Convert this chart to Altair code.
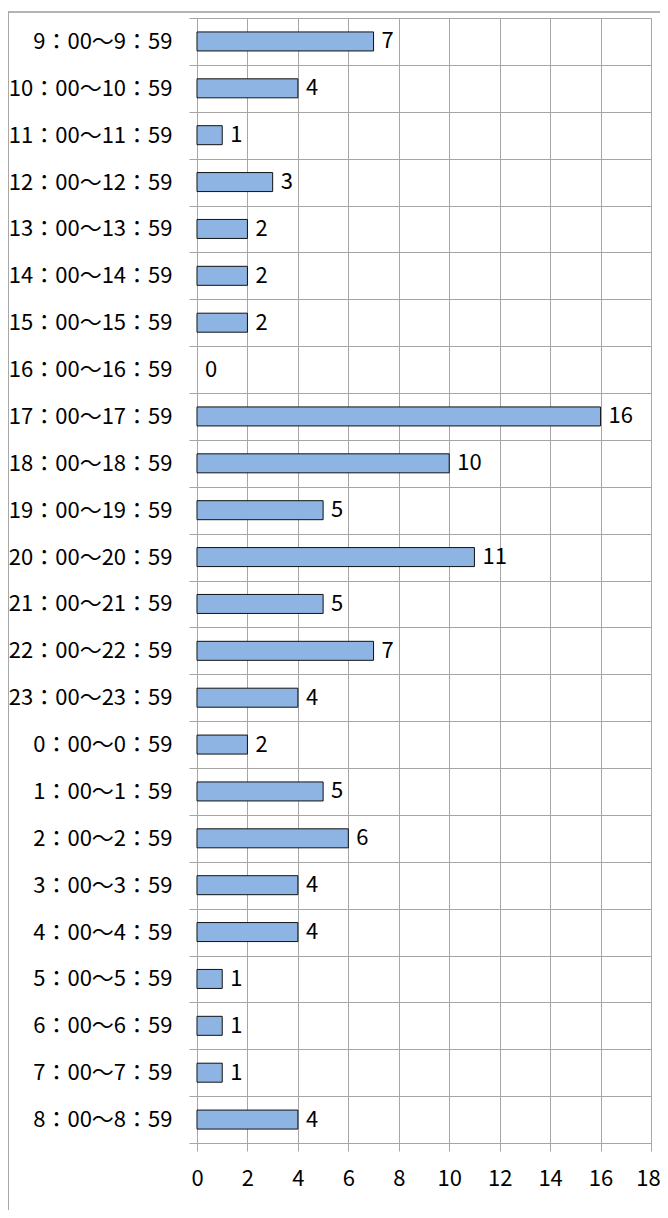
import altair as alt
import pandas as pd

categories = [
    "9：00～9：59", "10：00～10：59", "11：00～11：59", "12：00～12：59",
    "13：00～13：59", "14：00～14：59", "15：00～15：59", "16：00～16：59",
    "17：00～17：59", "18：00～18：59", "19：00～19：59", "20：00～20：59",
    "21：00～21：59", "22：00～22：59", "23：00～23：59", "0：00～0：59",
    "1：00～1：59", "2：00～2：59", "3：00～3：59", "4：00～4：59",
    "5：00～5：59", "6：00～6：59", "7：00～7：59", "8：00～8：59",
]
values = [7, 4, 1, 3, 2, 2, 2, 0, 16, 10, 5, 11, 5, 7, 4, 2, 5, 6, 4, 4, 1, 1, 1, 4]
x_ticks = [0, 2, 4, 6, 8, 10, 12, 14, 16, 18]

df = pd.DataFrame({"cat": categories, "val": values})
frame_df = pd.DataFrame({"k": [0]})

FONT = "Noto Sans CJK JP"
FS = 22
GRID = "#a6a6a6"
W, H = 454, 1125

x = alt.X("val:Q", scale=alt.Scale(domain=[0, 18], nice=False),
          axis=alt.Axis(values=x_ticks, title=None, grid=True, gridColor=GRID,
                        tickColor=GRID, tickSize=8, domainColor=GRID,
                        labelFlush=False,
                        labelOffset={"expr": "datum.value == 18 ? -3 : 0"},
                        labelPadding=17, labelFontSize=FS, labelFont=FONT,
                        labelColor="#000000"))
y = alt.Y("cat:N", sort=categories,
          scale=alt.Scale(paddingInner=0, paddingOuter=0),
          axis=alt.Axis(title=None, tickBand="extent", grid=True, gridColor=GRID,
                        tickColor=GRID, tickSize=8, domain=False,
                        labelPadding=17, labelFontSize=FS, labelFont=FONT,
                        labelColor="#000000", labelLimit=400))

bars = alt.Chart(df).transform_filter(alt.datum.val > 0).mark_bar(
    size=19, color="#8EB4E3", stroke="#111111", strokeWidth=1).encode(x=x, y=y)
labels = alt.Chart(df).mark_text(align="left", baseline="middle", dx=8,
                                 fontSize=FS, font=FONT, color="#000000").encode(
    x="val:Q", y=alt.Y("cat:N", sort=categories), text="val:Q")

frame_top = alt.Chart(frame_df).mark_rect(color="#b4b4b4").encode(
    x=alt.value(-189), x2=alt.value(470), y=alt.value(-7), y2=alt.value(-5))
frame_left = alt.Chart(frame_df).mark_rect(color="#a8a8a8").encode(
    x=alt.value(-189), x2=alt.value(-188), y=alt.value(-7), y2=alt.value(1250))

chart = alt.layer(bars, labels, frame_top, frame_left).properties(
    width=W, height=H,
    autosize=alt.AutoSizeParams(type="none"),
    padding={"left": 189, "top": 10, "right": 9, "bottom": 67},
).configure_view(stroke=None).configure(background="white")

chart.save("out.html", embed_options={"renderer": "svg", "actions": False})
